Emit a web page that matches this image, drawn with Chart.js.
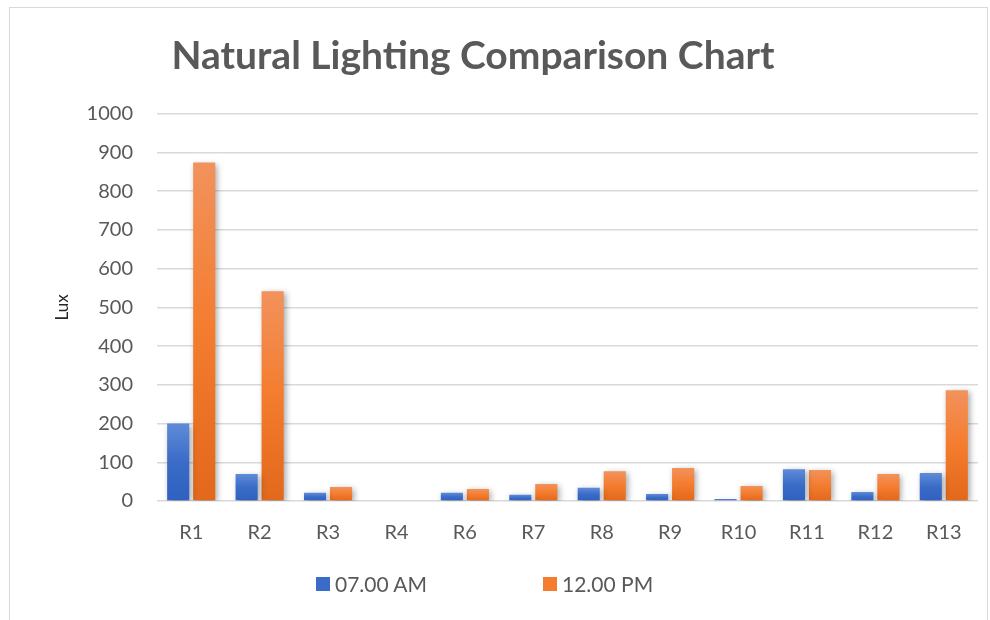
<!DOCTYPE html>
<html>
<head>
<meta charset="utf-8">
<script src="https://cdn.jsdelivr.net/npm/chart.js@4.4.1/dist/chart.umd.min.js"></script>
<style>
  body { margin: 0; background: #fff; font-family: Lato, "Open Sans", sans-serif; }
  #wrap { position: relative; width: 990px; height: 620px; }
  #frame { position: absolute; left: 9px; top: 7px; width: 979px; height: 640px; border: 1px solid #d9d9d9; box-sizing: border-box; }
  #lightChart { position: absolute; left: 0; top: 0; }
  #legend { position: absolute; top: 572px; left: 0; width: 990px; height: 24px; }
  .item { position: absolute; top: 0; display: flex; align-items: center; color: #595959; font-size: 21px; line-height: 24px; }
  .box { width: 14px; height: 14px; margin-right: 5px; }
</style>
</head>
<body>
<div id="wrap">
  <div id="frame"></div>
  <canvas id="lightChart" width="990" height="620"></canvas>
  <div id="legend"></div>
</div>
<script>
// Lux readings per room
const rooms = ['R1', 'R2', 'R3', 'R4', 'R6', 'R7', 'R8', 'R9', 'R10', 'R11', 'R12', 'R13'];
const morning = [200, 70, 21, 0, 21, 16, 34, 18, 5, 82, 23, 72];
const noon = [874, 542, 36, 0, 31, 44, 77, 85, 39, 80, 70, 286];
const yTicks = [0, 100, 200, 300, 400, 500, 600, 700, 800, 900, 1000];

const seriesNames = ['07.00 AM', '12.00 PM'];
const blueStops = ['#5f8bd8', '#3a6bc7', '#3061c0'];
const orangeStops = ['#f2925c', '#f47c2e', '#e2681b'];

// vertical gradient spanning each bar, lighter at the top like Excel
function barFill(stops) {
    return function (context) {
        const chart = context.chart;
        const y = chart.scales.y;
        if (!y || !context.parsed) return stops[1];
        const top = y.getPixelForValue(context.parsed.y);
        const base = y.getPixelForValue(0);
        if (!isFinite(top) || base - top < 1) return stops[1];
        const g = chart.ctx.createLinearGradient(0, top, 0, base);
        g.addColorStop(0, stops[0]);
        g.addColorStop(0.5, stops[1]);
        g.addColorStop(1, stops[2]);
        return g;
    };
}

// soft drop shadow under the bars
const barShadow = {
    id: 'barShadow',
    beforeDatasetsDraw(chart) {
        const ctx = chart.ctx;
        ctx.save();
        ctx.shadowColor = 'rgba(0, 0, 0, 0.35)';
        ctx.shadowBlur = 6;
        ctx.shadowOffsetX = 2;
        ctx.shadowOffsetY = 2;
    },
    afterDatasetsDraw(chart) {
        chart.ctx.restore();
    }
};

// title sits a bit left of centre in the original
const titleShift = {
    id: 'titleShift',
    afterLayout(chart) {
        if (chart.titleBlock) {
            chart.titleBlock.left -= 21;
            chart.titleBlock.right -= 21;
        }
    }
};

const ctx = document.getElementById('lightChart').getContext('2d');
const chart = new Chart(ctx, {
    type: 'bar',
    data: {
        labels: rooms,
        datasets: [{
            label: seriesNames[0],
            data: morning,
            backgroundColor: barFill(blueStops),
            categoryPercentage: 0.76,
            barPercentage: 0.85
        }, {
            label: seriesNames[1],
            data: noon,
            backgroundColor: barFill(orangeStops),
            categoryPercentage: 0.76,
            barPercentage: 0.85
        }]
    },
    options: {
        responsive: false,
        animation: false,
        layout: { padding: { left: 10, right: 12, top: 0, bottom: 55 } },
        plugins: {
            legend: { display: false },
            tooltip: { enabled: false },
            title: {
                display: true,
                text: 'Natural Lighting Comparison Chart',
                color: '#595959',
                font: { family: 'Lato', size: 39, weight: 'bold' },
                padding: { top: 33, bottom: 34 }
            }
        },
        scales: {
            x: {
                grid: { display: false, drawTicks: false },
                border: { display: false },
                ticks: {
                    color: '#595959',
                    font: { family: 'Lato', size: 20 },
                    padding: 20,
                    maxRotation: 0
                }
            },
            y: {
                min: 0,
                max: 1000,
                afterBuildTicks(scale) {
                    scale.ticks = yTicks.map(v => ({ value: v }));
                },
                afterFit(scale) {
                    scale.width = 147;
                },
                grid: { color: '#d9d9d9', lineWidth: 1.5, drawTicks: false },
                border: { display: false },
                ticks: {
                    color: '#595959',
                    font: { family: 'Lato', size: 20 },
                    padding: 24,
                    callback: v => String(v)
                },
                title: {
                    display: true,
                    text: 'Lux',
                    color: '#262626',
                    font: { family: 'Lato', size: 17 },
                    padding: { top: 42, bottom: 0 }
                }
            }
        }
    },
    plugins: [barShadow, titleShift]
});

// html legend, spaced wide like the original
const legendX = [316, 543];
const legendColors = [blueStops[1], orangeStops[1]];
const legendEl = document.getElementById('legend');
chart.data.datasets.forEach((ds, i) => {
    const item = document.createElement('div');
    item.className = 'item';
    item.style.left = legendX[i] + 'px';
    const box = document.createElement('span');
    box.className = 'box';
    box.style.background = legendColors[i];
    const txt = document.createElement('span');
    txt.textContent = ds.label;
    item.appendChild(box);
    item.appendChild(txt);
    legendEl.appendChild(item);
});
</script>
</body>
</html>
